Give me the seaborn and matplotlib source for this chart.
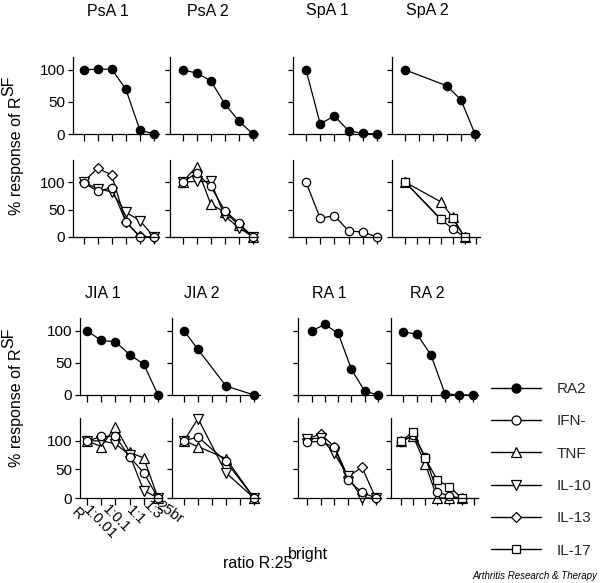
import numpy as np
import pandas as pd
import matplotlib
matplotlib.use("Agg")
import matplotlib.pyplot as plt
import seaborn as sns
from matplotlib.lines import Line2D
from matplotlib.transforms import ScaledTranslation

sns.set_theme(style="ticks")
plt.rcParams['font.family'] = ['Liberation Sans', 'DejaVu Sans']

nan = np.nan

# ---------------- data ----------------
x_labels = ["R", "1:0.01", "1:0.1", "1:1", "1:3", "25br"]
series_names = ["RA2", "IFN-", "TNF", "IL-10", "IL-13", "IL-17"]
panel_titles = ["PsA 1", "PsA 2", "SpA 1", "SpA 2", "JIA 1", "JIA 2", "RA 1", "RA 2"]

# upper rows (RA2)
ra2_psa1 = [100, 101, 101, 70, 6, 0]
ra2_psa2 = [100, 95, 83, 47, 20, 0]
ra2_spa1 = [100, 16, 28, 5, 1, 0]
ra2_spa2 = [100, nan, nan, 75, 53, 0]
ra2_jia1 = [100, 85, 83, 63, 48, 0]
ra2_jia2 = [100, 71, nan, 14, nan, 0]
ra2_ra1 = [100, 110, 96, 40, 6, 0]
ra2_ra2 = [98, 95, 62, 2, 0, 0]

# lower rows (cytokines)
il13_psa1 = [100, 125, 113, 28, 1, 0]
il10_psa1 = [100, 88, 82, 45, 30, 0]
ifn_psa1 = [98, 84, 89, 28, 0, 0]

tnf_psa2 = [100, 128, 60, 45, 22, 0]
il10_psa2 = [100, 101, 101, 38, 17, 0]
ifn_psa2 = [100, 116, 92, 48, 25, 0]

ifn_spa1 = [100, 34, 39, 11, 9, 0]

tnf_spa2 = [100, nan, nan, 64, 36, 0]
ifn_spa2 = [100, nan, nan, 32, 15, 0]
il17_spa2 = [100, nan, nan, 33, 34, 0]

tnf_jia1 = [100, 90, 125, 80, 70, 0]
il10_jia1 = [100, 100, 95, 75, 13, 0]
ifn_jia1 = [99, 108, 108, 72, 44, 0]

tnf_jia2 = [100, 90, nan, 69, nan, 0]
il10_jia2 = [100, 139, nan, 44, nan, 0]
ifn_jia2 = [100, 107, nan, 64, nan, 0]

il13_ra1 = [103, 112, 90, 37, 54, 0]
il10_ra1 = [103, 105, 78, 38, 0, 0]
ifn_ra1 = [98, 99, 89, 31, 10, 0]

tnf_ra2 = [100, 108, 60, 0, 0, 0]
ifn_ra2 = [98, 110, 72, 11, 3, 0]
il17_ra2 = [99, 116, 70, 31, 20, 0]

upper = {
    "PsA 1": [("RA2", ra2_psa1)], "PsA 2": [("RA2", ra2_psa2)],
    "SpA 1": [("RA2", ra2_spa1)], "SpA 2": [("RA2", ra2_spa2)],
    "JIA 1": [("RA2", ra2_jia1)], "JIA 2": [("RA2", ra2_jia2)],
    "RA 1": [("RA2", ra2_ra1)], "RA 2": [("RA2", ra2_ra2)],
}
lower = {
    "PsA 1": [("IL-13", il13_psa1), ("IL-10", il10_psa1), ("IFN-", ifn_psa1)],
    "PsA 2": [("TNF", tnf_psa2), ("IL-10", il10_psa2), ("IFN-", ifn_psa2)],
    "SpA 1": [("IFN-", ifn_spa1)],
    "SpA 2": [("TNF", tnf_spa2), ("IFN-", ifn_spa2), ("IL-17", il17_spa2)],
    "JIA 1": [("TNF", tnf_jia1), ("IL-10", il10_jia1), ("IFN-", ifn_jia1)],
    "JIA 2": [("TNF", tnf_jia2), ("IL-10", il10_jia2), ("IFN-", ifn_jia2)],
    "RA 1": [("IL-13", il13_ra1), ("IL-10", il10_ra1), ("IFN-", ifn_ra1)],
    "RA 2": [("TNF", tnf_ra2), ("IFN-", ifn_ra2), ("IL-17", il17_ra2)],
}

rows = []
for level, table in (("upper", upper), ("lower", lower)):
    for panel, lst in table.items():
        for name, vals in lst:
            for i, v in enumerate(vals):
                rows.append((panel, level, name, i, v))
df = pd.DataFrame(rows, columns=["panel", "level", "series", "x", "y"]).dropna()

# ---------------- styling / layout ----------------
W, H = 600, 583
style = {
    "RA2": dict(marker="o", ms=6.0, fc="black"),
    "IFN-": dict(marker="o", ms=6.0, fc="white"),
    "TNF": dict(marker="^", ms=6.5, fc="white"),
    "IL-10": dict(marker="v", ms=6.5, fc="white"),
    "IL-13": dict(marker="D", ms=5.0, fc="white"),
    "IL-17": dict(marker="s", ms=5.8, fc="white"),
}

# (spine_x, first_tick_x, step, right_x, tick indices) in pixels
col_layout = {
    "PsA 1": [(73, 83.5, 14.1, 159, range(6)), (73, 83.5, 14.1, 159, range(6))],
    "PsA 2": [(170, 182.5, 14.1, 258, range(6)), (170, 182.5, 14.1, 258, range(6))],
    "SpA 1": [(293, 306, 14.2, 381, range(6)), (293, 306, 14.2, 381, range(6))],
    "SpA 2": [(392, 405, 14.0, 480, range(6)), (392, 405, 11.9, 480, range(7))],
    "JIA 1": [(80, 87, 14.2, 162, range(6)), (80, 87, 14.2, 162, range(6))],
    "JIA 2": [(172, 184, 14.0, 260, range(6)), (172, 184, 14.0, 260, range(6))],
    "RA 1": [(297.5, 311.7, 13.25, 381, range(-1, 6)), (297.5, 306.7, 13.8, 381, range(6))],
    "RA 2": [(391, 403, 14.0, 478, range(6)), (391, 401, 12.1, 478, range(7))],
}
# (y_top, y_zero, ymax) for upper/lower rows of each block
block_rows = {
    "top": [(57, 134, 120), (160, 237, 140)],
    "bottom": [(318, 395, 120), (418, 498, 140)],
}
title_pos = {
    "PsA 1": (108, 11), "PsA 2": (208, 11), "SpA 1": (327, 11), "SpA 2": (427, 11),
    "JIA 1": (103, 293), "JIA 2": (202, 293), "RA 1": (329, 293), "RA 2": (427, 293),
}
# per tick-label (dx, dy, rotation) in pixels / degrees, label centred on anchor
label_shift = [(-9.5, 7.7, -45), (-1.2, 16.0, -45), (1.1, 12.0, -45),
               (5.9, 9.0, -45), (8.7, 4.0, -45), (11.5, 6.2, -35)]

fig = plt.figure(figsize=(W / 100, H / 100), dpi=100)
fig.patch.set_facecolor("white")

for k, panel in enumerate(panel_titles):
    block = "top" if k < 4 else "bottom"
    for r, level in enumerate(("upper", "lower")):
        sx, fx, step, rx, ticks = col_layout[panel][r]
        yt, y0, ymax = block_rows[block][r]
        ax = fig.add_axes([sx / W, 1 - y0 / H, (rx - sx) / W, (y0 - yt) / H])
        ax.set_facecolor("none")
        sub = df[(df.panel == panel) & (df.level == level)]
        for name in sub.series.unique():
            d = sub[sub.series == name]
            st = style[name]
            sns.lineplot(data=d, x="x", y="y", ax=ax, color="black", linewidth=0.9,
                         marker=st["marker"], markersize=st["ms"],
                         markerfacecolor=st["fc"], markeredgecolor="black",
                         markeredgewidth=0.9, clip_on=False, errorbar=None,
                         legend=False)
        ax.set_xlim((sx - fx) / step, (rx - fx) / step)
        ax.set_ylim(0, ymax)
        ax.set_xticks(list(ticks))
        ax.set_yticks([0, 50, 100])
        ax.set_xlabel("")
        ax.set_ylabel("")
        for s in ("top", "right"):
            ax.spines[s].set_visible(False)
        for s in ("left", "bottom"):
            ax.spines[s].set_linewidth(0.9)
            ax.spines[s].set_color("black")
        ax.tick_params(axis="x", length=5, width=0.9, color="black", pad=1)
        ax.tick_params(axis="y", length=3.5, width=0.9, color="black", pad=2,
                       labelsize=11, labelcolor="black")
        if k % 4 != 0:
            ax.set_yticklabels([])
        if panel == "JIA 1" and level == "lower":
            ax.set_xticklabels(x_labels, ha="center", va="center",
                               rotation_mode="anchor", fontsize=10.5, color="black")
            for lab, (dx, dy, rot) in zip(ax.get_xticklabels(), label_shift):
                lab.set_rotation(rot)
                lab.set_transform(lab.get_transform() +
                                  ScaledTranslation(dx / 100, -dy / 100,
                                                    fig.dpi_scale_trans))
        else:
            ax.set_xticklabels([])
    tx, ty = title_pos[panel]
    fig.text(tx / W, 1 - ty / H, panel, ha="center", va="center", fontsize=11.5,
             color="black")

# axis labels with same-size superscripts
fig.canvas.draw()
rend = fig.canvas.get_renderer()
for ybase in (215, 467):
    t = fig.text(21 / W, 1 - ybase / H, "% response of R", rotation=90,
                 rotation_mode="anchor", ha="left", va="baseline", fontsize=11.5,
                 color="black")
    bb = t.get_window_extent(rend)
    fig.text((21 - 8) / W, (bb.y1 + 1) / H, "SF", rotation=90,
             rotation_mode="anchor", ha="left", va="baseline", fontsize=11.5,
             color="black")

t = fig.text(223 / W, 1 - 568 / H, "ratio R:25", ha="left", va="baseline",
             fontsize=11.5, color="black")
bb = t.get_window_extent(rend)
fig.text((bb.x1 - 4) / W, 1 - 559 / H, "bright", ha="left", va="baseline",
         fontsize=11.5, color="black")

# legend
handles = [Line2D([], [], color="black", linewidth=1.0, marker=style[n]["marker"],
                  markersize=style[n]["ms"] + 0.5, markerfacecolor=style[n]["fc"],
                  markeredgecolor="black", markeredgewidth=0.9)
           for n in series_names]
fig.legend(handles, series_names, loc="upper left",
           bbox_to_anchor=(491 / W, 1 - 382 / H), frameon=False, fontsize=11,
           handlelength=3.3, handletextpad=1.0, labelspacing=1.2,
           borderaxespad=0, borderpad=0)

fig.text(597 / W, 1 - 576 / H, "Arthritis Research & Therapy", style="italic",
         fontsize=7, ha="right", va="center", color="black")

fig.savefig("out.png", dpi=100)
